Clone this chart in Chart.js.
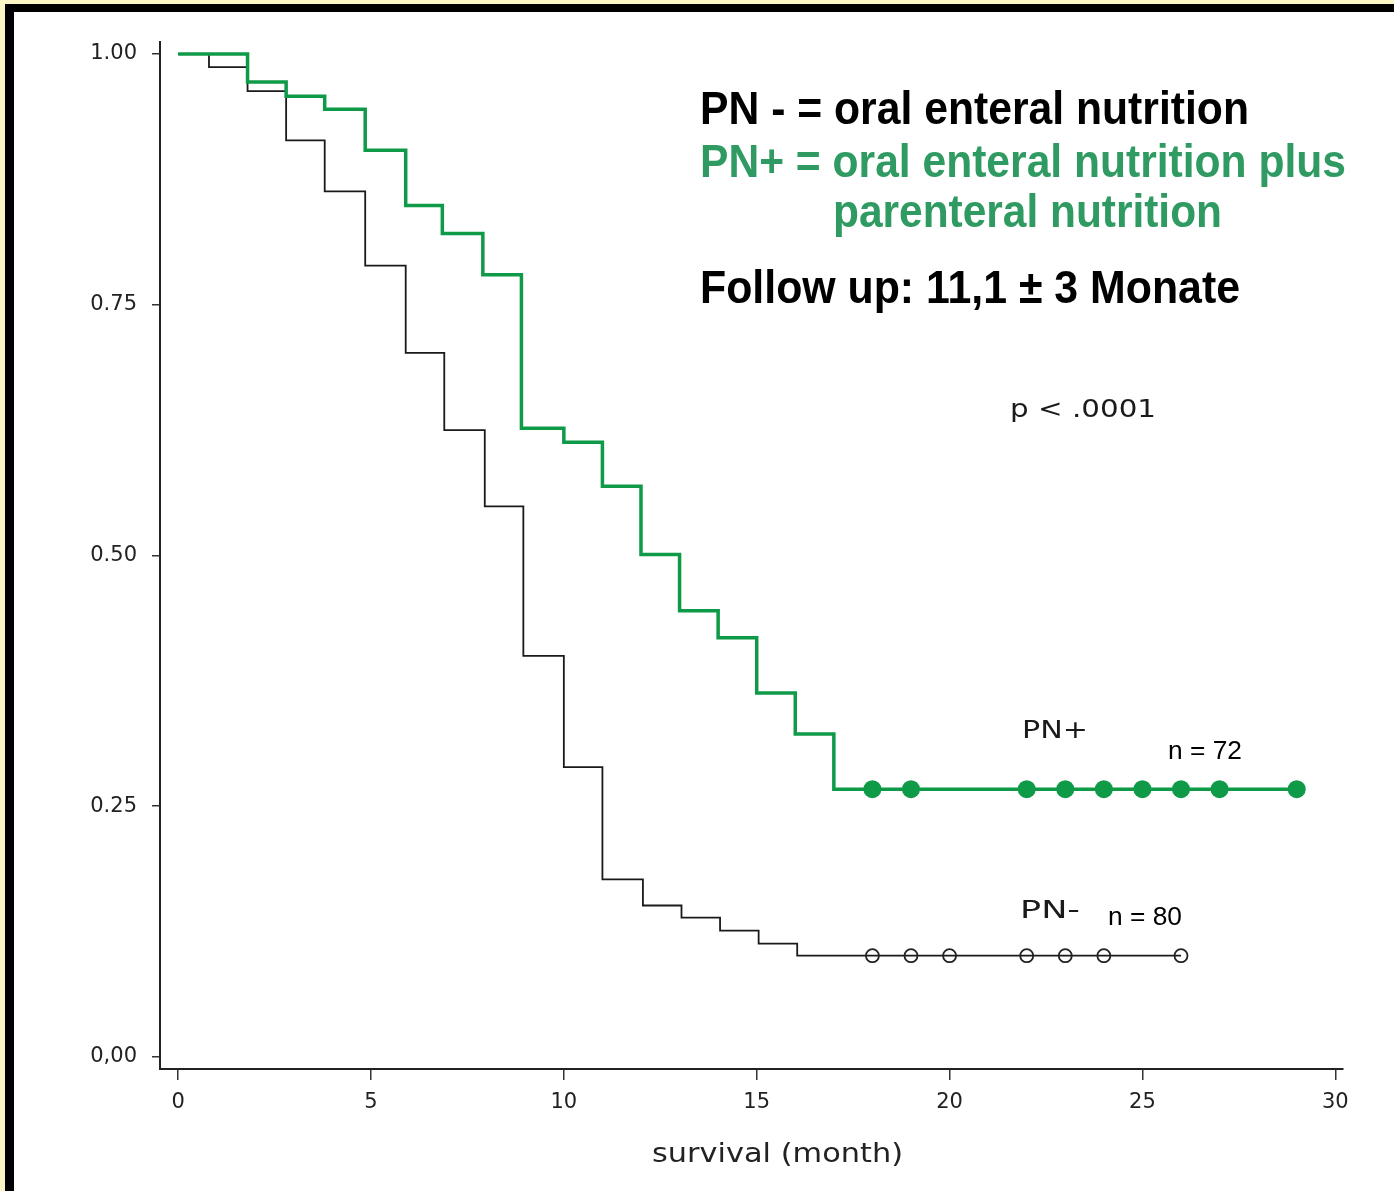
<!DOCTYPE html>
<html>
<head>
<meta charset="utf-8">
<title>Survival PN+ vs PN-</title>
<script src="https://cdn.jsdelivr.net/npm/chart.js@4.4.1/dist/chart.umd.min.js"></script>
<style>
  html, body { margin: 0; padding: 0; }
  body { width: 1394px; height: 1191px; overflow: hidden; background: #fbf6c3; position: relative; }
  .frame { position: absolute; left: 5px; top: 4px; width: 1420px; height: 1220px; background: #fff;
           border-left: 9px solid #000; border-top: 8px solid #000; }
  canvas { position: absolute; left: 0; top: 0; }
</style>
</head>
<body>
<div class="frame"></div>
<canvas id="km" width="1394" height="1191"></canvas>
<script>
// Kaplan-Meier steps (month, survival after that month)
const pnMinusTimes    = [0, 0.8, 1.8, 2.8, 3.8, 4.85, 5.9, 6.9, 7.95, 8.95, 10, 11, 12.05, 13.05, 14.05, 15.05, 16.05, 26];
const pnMinusSurvival = [1.00, 0.987, 0.963, 0.914, 0.863, 0.789, 0.702, 0.625, 0.549, 0.400, 0.289, 0.177, 0.151, 0.139, 0.126, 0.113, 0.101, 0.101];
const pnPlusTimes     = [0, 1.8, 2.8, 3.8, 4.85, 5.9, 6.85, 7.9, 8.9, 10, 11, 12, 13, 14, 15, 16, 17, 29];
const pnPlusSurvival  = [1.00, 0.972, 0.958, 0.945, 0.904, 0.849, 0.821, 0.780, 0.627, 0.613, 0.569, 0.501, 0.445, 0.418, 0.363, 0.322, 0.267, 0.267];

// censored observations (months)
const pnMinusCensored = [18, 19, 20, 22, 23, 24, 26];
const pnPlusCensored  = [18, 19, 22, 23, 24, 25, 26, 27, 29];

const xTickValues = [0, 5, 10, 15, 20, 25, 30];
const yTickValues = [0, 0.25, 0.5, 0.75, 1];
const yTickLabels = ['0,00', '0.25', '0.50', '0.75', '1.00'];

const GREEN = '#0f9a48';
const TEXT_GREEN = '#2f9a62';

function survivalAt(times, surv, t) {
  let s = surv[0];
  for (let i = 0; i < times.length; i++) {
    if (times[i] <= t) s = surv[i];
  }
  return s;
}

function toPoints(times, surv) {
  return times.map((t, i) => ({ x: t, y: surv[i] }));
}

// text of the slide (left x, baseline y, width to fill) - the scan's fonts are wider than ours
const notes = [
  { text: 'PN - = oral enteral nutrition', x: 700, y: 124, w: 549, font: 'bold 46px "Liberation Sans", Arial, sans-serif', color: '#000' },
  { text: 'PN+ = oral enteral nutrition plus', x: 700, y: 177, w: 646, font: 'bold 46px "Liberation Sans", Arial, sans-serif', color: TEXT_GREEN },
  { text: 'parenteral nutrition', x: 833, y: 227, w: 389, font: 'bold 46px "Liberation Sans", Arial, sans-serif', color: TEXT_GREEN },
  { text: 'Follow up: 11,1 \u00b1 3 Monate', x: 700, y: 303, w: 540, font: 'bold 46px "Liberation Sans", Arial, sans-serif', color: '#000' },
  { text: 'p < .0001', x: 1010, y: 417, w: 146, font: '25px "DejaVu Sans", sans-serif', color: '#1a1a1a' },
  { text: 'PN+', x: 1022, y: 738, w: 66, font: '25px "DejaVu Sans", sans-serif', color: '#1a1a1a' },
  { text: 'PN-', x: 1020, y: 918, w: 60, font: '25px "DejaVu Sans", sans-serif', color: '#1a1a1a' },
  { text: 'n = 72', x: 1168, y: 759, w: 74, font: '25px "Liberation Sans", Arial, sans-serif', color: '#000' },
  { text: 'n = 80', x: 1108, y: 925, w: 74, font: '25px "Liberation Sans", Arial, sans-serif', color: '#000' },
  { text: 'survival (month)', x: 652, y: 1162, w: 251, font: '27px "DejaVu Sans", sans-serif', color: '#222' }
];

const textOverlay = {
  id: 'textOverlay',
  afterDraw(chart) {
    const ctx = chart.ctx;
    notes.forEach(n => {
      ctx.save();
      ctx.font = n.font;
      ctx.fillStyle = n.color;
      ctx.textBaseline = 'alphabetic';
      const natural = ctx.measureText(n.text).width;
      ctx.translate(n.x, n.y);
      ctx.scale(n.w / natural, 1);
      ctx.fillText(n.text, 0, 0);
      ctx.restore();
    });
  }
};

const ctx = document.getElementById('km').getContext('2d');
new Chart(ctx, {
  type: 'line',
  data: {
    datasets: [
      {
        label: 'PN+ censored',
        type: 'scatter',
        data: pnPlusCensored.map(t => ({ x: t, y: survivalAt(pnPlusTimes, pnPlusSurvival, t) })),
        pointStyle: 'circle',
        pointRadius: 9,
        pointBackgroundColor: GREEN,
        pointBorderColor: GREEN,
        borderWidth: 0,
        order: 0
      },
      {
        label: 'PN+',
        data: toPoints(pnPlusTimes, pnPlusSurvival),
        stepped: 'before',
        borderColor: GREEN,
        borderWidth: 3.5,
        pointRadius: 0,
        fill: false,
        order: 1
      },
      {
        label: 'PN- censored',
        type: 'scatter',
        data: pnMinusCensored.map(t => ({ x: t, y: survivalAt(pnMinusTimes, pnMinusSurvival, t) })),
        pointStyle: 'circle',
        pointRadius: 6.5,
        pointBackgroundColor: 'rgba(0,0,0,0)',
        pointBorderColor: '#222',
        pointBorderWidth: 1.8,
        order: 2
      },
      {
        label: 'PN-',
        data: toPoints(pnMinusTimes, pnMinusSurvival),
        stepped: 'before',
        borderColor: '#1a1a1a',
        borderWidth: 1.8,
        pointRadius: 0,
        fill: false,
        order: 3
      }
    ]
  },
  options: {
    responsive: false,
    devicePixelRatio: 1,
    animation: false,
    layout: { padding: { left: 0, right: 51, top: 42, bottom: 0 } },
    plugins: {
      legend: { display: false },
      tooltip: { enabled: false }
    },
    scales: {
      x: {
        type: 'linear',
        min: -0.47,
        max: 30.2,
        afterBuildTicks: scale => { scale.ticks = xTickValues.map(v => ({ value: v })); },
        afterFit: scale => { scale.height = 122; },
        ticks: {
          color: '#222',
          padding: 10,
          font: { family: '"DejaVu Sans", sans-serif', size: 21 }
        },
        grid: { drawOnChartArea: false, drawTicks: true, tickLength: 11, color: '#333', lineWidth: 1.5 },
        border: { display: true, color: '#222', width: 2 }
      },
      y: {
        type: 'linear',
        min: -0.012,
        max: 1.012,
        afterBuildTicks: scale => { scale.ticks = yTickValues.map(v => ({ value: v })); },
        afterFit: scale => { scale.width = 160; },
        ticks: {
          color: '#222',
          padding: 15,
          font: { family: '"DejaVu Sans", sans-serif', size: 21 },
          callback: value => yTickLabels[yTickValues.indexOf(value)]
        },
        grid: { drawOnChartArea: false, drawTicks: true, tickLength: 8, color: '#333', lineWidth: 1.5 },
        border: { display: true, color: '#222', width: 2 }
      }
    }
  },
  plugins: [textOverlay]
});
</script>
</body>
</html>
